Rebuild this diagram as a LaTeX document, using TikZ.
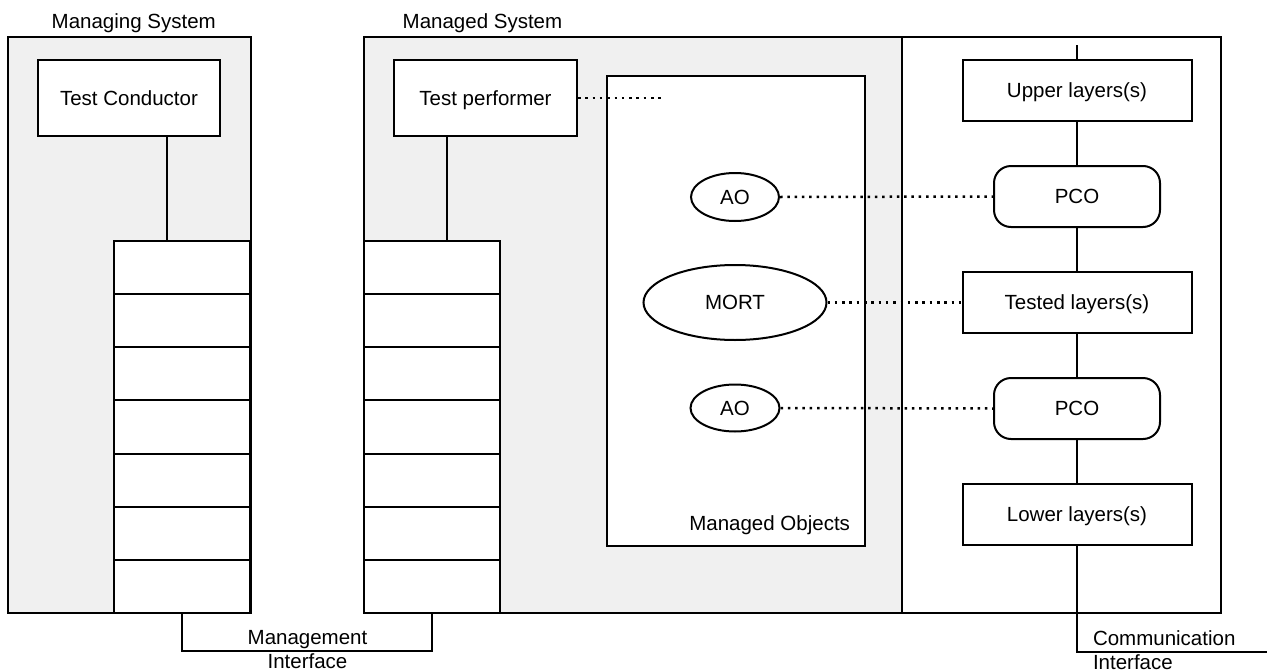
\documentclass[tikz,border=0pt]{standalone}
\usepackage{fontspec}
\setmainfont{Liberation Sans}
\usetikzlibrary{shapes.geometric}
\definecolor{shade}{HTML}{F0F0F0}
\begin{document}
\begin{tikzpicture}[x=1pt,y=-1pt,
  font=\fontsize{20.5pt}{24pt}\selectfont,
  line width=2pt,
  container/.style={draw, inner sep=0pt},
  box/.style={draw, fill=white, inner sep=0pt, text height=14.7pt, text depth=0pt},
  row/.style={draw, fill=white, inner sep=0pt, minimum width=136pt, minimum height=53.143pt},
  oval/.style={draw, fill=white, ellipse, inner sep=0pt, text height=14.7pt, text depth=0pt},
  lbl/.style={inner sep=0pt},
  dotline/.style={line width=2.5pt, dash pattern=on 2.5pt off 4.8pt}]
\useasboundingbox (0,0) rectangle (1267,672);

% containers
\node[container, fill=shade, minimum width=243pt, minimum height=576pt] (mgs) at (129.5,325) {};
\node[container, fill=shade, minimum width=538pt, minimum height=576pt] (msl) at (633,325) {};
\node[container, fill=white, minimum width=319pt, minimum height=576pt] (msr) at (1061.5,325) {};
\node[lbl, anchor=base west] (mgslbl) at (50.7,28.5) {Managing System};
\node[lbl, anchor=base west] (mslbl) at (401.7,28.5) {Managed System};

% test conductor / performer
\node[box, minimum width=182pt, minimum height=76pt] (TC) at (129,98) {Test Conductor};
\node[box, minimum width=183pt, minimum height=76pt] (TP) at (485.5,98) {Test performer};

% stacks
\foreach \i in {1,...,7} {
  \node[row] (l\i) at (182,{241+53.143*(\i-0.5)}) {};
  \node[row] (r\i) at (432,{241+53.143*(\i-0.5)}) {};
}
\coordinate (tcx) at (167,0);
\coordinate (tpx) at (447,0);
\draw (TC.south -| tcx) -- (l1.north -| tcx);
\draw (TP.south -| tpx) -- (r1.north -| tpx);

% management interface
\coordinate (mibot) at (0,651);
\draw (l7.south) -- (l7.south |- mibot) -- (r7.south |- mibot) -- (r7.south);
\node[lbl, anchor=base] (mi1) at (307.5,644) {Management};
\node[lbl, anchor=base] (mi2) at (307.5,668.5) {Interface};

% managed objects
\node[box, minimum width=258pt, minimum height=470pt] (MO) at (736,311) {};
\node[lbl, anchor=base east] (molbl) at (851,530) {Managed Objects};
\node[oval, minimum width=88pt, minimum height=48pt] (ao1) at (735,197) {AO};
\node[oval, minimum width=183pt, minimum height=75pt] (mort) at (735,302.5) {MORT};
\node[oval, minimum width=89pt, minimum height=47pt] (ao2) at (735,408) {AO};

% protocol stack
\node[box, minimum width=229pt, minimum height=61pt] (upper) at (1077,90.5) {Upper layers(s)};
\node[box, rounded corners=17pt, minimum width=166pt, minimum height=61pt] (pco1) at (1077,196.5) {PCO};
\node[box, minimum width=229pt, minimum height=61pt] (tested) at (1077,302.5) {Tested layers(s)};
\node[box, rounded corners=17pt, minimum width=166pt, minimum height=61pt] (pco2) at (1077,408.5) {PCO};
\node[box, minimum width=229pt, minimum height=61pt] (lower) at (1077,514.5) {Lower layers(s)};

\coordinate (sptop) at (1077,45);
\coordinate (spbot) at (1077,652);
\coordinate (spend) at (1267,652);
\draw (sptop) -- (upper.north);
\draw (upper.south) -- (pco1.north);
\draw (pco1.south) -- (tested.north);
\draw (tested.south) -- (pco2.north);
\draw (pco2.south) -- (lower.north);
\draw (lower.south) -- (spbot) -- (spend);
\node[lbl, anchor=base west] (comm1) at (1092,645.5) {Communication};
\node[lbl, anchor=base west] (comm2) at (1092,669) {Interface};

% dotted relations
\coordinate (tpend) at (662,98);
\draw[dotline] (TP.east) -- (tpend);
\draw[dotline] (ao1.east) -- (pco1.west);
\draw[dotline] (mort.east) -- (tested.west);
\draw[dotline] (ao2.east) -- (pco2.west);
\end{tikzpicture}
\end{document}
